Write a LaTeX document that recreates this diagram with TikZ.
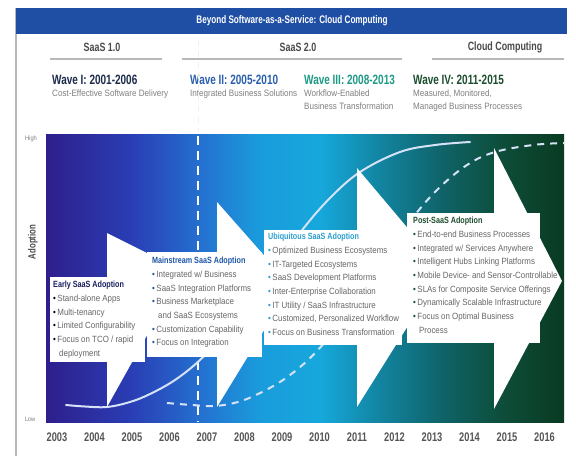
\documentclass[tikz,border=0pt]{standalone}
\usepackage{fontspec}
\setmainfont{Liberation Sans}
\newfontfamily\cnd{Liberation Sans}[FakeStretch=0.88]
\newfontfamily\hdr{Liberation Sans}[FakeStretch=0.74]
\newfontfamily\bxt{Liberation Sans}[FakeStretch=0.8]
\definecolor{barblue}{HTML}{1F4EA5}
\definecolor{framegray}{HTML}{B8B8B8}
\definecolor{hdrgray}{HTML}{4A4A4A}
\definecolor{subgray}{HTML}{808080}
\definecolor{itemgray}{HTML}{666666}
\definecolor{yeargray}{HTML}{555555}
\definecolor{wone}{HTML}{1C2B4A}
\definecolor{wtwo}{HTML}{2A5FAE}
\definecolor{wthree}{HTML}{1D9A86}
\definecolor{wfour}{HTML}{1C4D2E}
\definecolor{tone}{HTML}{1A2060}
\definecolor{ttwo}{HTML}{1D57A6}
\definecolor{tthree}{HTML}{2A9FD0}
\definecolor{tfour}{HTML}{1C4D2E}
\definecolor{ga}{HTML}{2E1F8C}
\definecolor{gb}{HTML}{2A3DB4}
\definecolor{gc}{HTML}{2470D0}
\definecolor{gd}{HTML}{1A9CDC}
\definecolor{ge}{HTML}{16A8DC}
\definecolor{gf}{HTML}{1284A0}
\definecolor{gg}{HTML}{0F646A}
\definecolor{gh}{HTML}{0D4E3A}
\definecolor{gi}{HTML}{0A3A22}
\definecolor{curvecol}{HTML}{D6E2F7}
\newcommand{\bul}[1]{\textcolor{#1}{\textbullet}\,}
\newcommand{\ind}{\hspace*{6pt}}
\begin{document}
\begin{tikzpicture}[x=1pt,y=-1pt,
  boxtext/.style={anchor=north west, inner sep=0pt, align=left, text=itemgray, font=\cnd\fontsize{9}{13.7}\selectfont},
  wave/.style={anchor=west, inner sep=0pt, font=\hdr\bfseries\fontsize{13.5}{15}\selectfont},
  wavesub/.style={anchor=north west, inner sep=0pt, align=left, text=subgray, font=\cnd\fontsize{9.2}{12.5}\selectfont},
  phase/.style={inner sep=0pt, text=hdrgray, font=\hdr\bfseries\fontsize{12}{14}\selectfont},
  yearlbl/.style={inner sep=0pt, text=yeargray, font=\hdr\bfseries\fontsize{12.5}{14}\selectfont},
  axislbl/.style={inner sep=0pt, text=subgray, font=\cnd\fontsize{6.5}{8}\selectfont},
  whitefill/.style={fill=white, draw=none},
  hline/.style={draw=framegray, line width=1.2pt},
]
\useasboundingbox (0,0) rectangle (576,460);
\fill[white] (0,0) rectangle (576,460);

% frame and title bar
\draw[framegray, line width=1.2pt] (16,8) -- (16,456);
\fill[barblue] (16,8) rectangle (567,34);
\node[inner sep=0pt, text=white, font=\hdr\bfseries\fontsize{11}{13}\selectfont] (title) at (292,21) {Beyond Software-as-a-Service: Cloud Computing};

% phase headers
\node[phase] (saasone) at (102,47) {SaaS 1.0};
\node[phase] (saastwo) at (298,47) {SaaS 2.0};
\node[phase] (cloud) at (505,47) {Cloud Computing};
\draw[hline] (50,59) -- (162,59);
\draw[hline] (182,59) -- (402,59);
\draw[hline] (432,59) -- (564,59);

% waves
\node[wave, text=wone] (wavei) at (52,80) {Wave I: 2001-2006};
\node[wavesub] (wavei-s) at (52,90) {Cost-Effective Software Delivery};
\node[wave, text=wtwo] (waveii) at (190,80) {Wave II: 2005-2010};
\node[wavesub] (waveii-s) at (190,90) {Integrated Business Solutions};
\node[wave, text=wthree] (waveiii) at (304,80) {Wave III: 2008-2013};
\node[wavesub] (waveiii-s) at (304,90) {Workflow-Enabled\\Business Transformation};
\node[wave, text=wfour] (waveiv) at (413,80) {Wave IV: 2011-2015};
\node[wavesub] (waveiv-s) at (413,90) {Measured, Monitored,\\Managed Business Processes};

% chart background gradient
\shade[left color=ga, right color=gb] (46,134) rectangle (130.4,422);
\shade[left color=gb, right color=gc] (130,134) rectangle (200.4,422);
\shade[left color=gc, right color=gd] (200,134) rectangle (260.4,422);
\shade[left color=gd, right color=ge] (260,134) rectangle (320.4,422);
\shade[left color=ge, right color=gf] (320,134) rectangle (380.4,422);
\shade[left color=gf, right color=gg] (380,134) rectangle (440.4,422);
\shade[left color=gg, right color=gh] (440,134) rectangle (500.4,422);
\shade[left color=gh, right color=gi] (500,134) rectangle (564,422);

% axis labels
\node[axislbl] (high) at (31,139) {High};
\node[axislbl] (low) at (30,419) {Low};
\node[inner sep=0pt, rotate=90, text=hdrgray, font=\hdr\bfseries\fontsize{10.5}{12}\selectfont] (adopt) at (33,242) {Adoption};

% vertical dashed divider
\draw[white!88!gray, line width=1pt, dash pattern=on 6pt off 5pt] (198,40) -- (198,132);
\draw[white, line width=2.4pt, dash pattern=on 9pt off 6pt] (198,136) -- (198,422);

% adoption curves
\draw[curvecol, line width=2pt, line cap=round] plot[smooth, tension=0.6] coordinates {
 (66,405) (85,406.5) (107,407) (130,402) (150,394) (175,380) (200,360) (225,333)
 (250,302) (275,268) (303,229) (330,198) (360,172) (400,152) (435,145) (470,142)};
\draw[curvecol, line width=2pt, dash pattern=on 7pt off 6pt] plot[smooth, tension=0.6] coordinates {
 (167,403) (192,405) (215,406) (238,402) (258,394) (283,380) (308,360) (333,333)
 (358,302) (383,268) (410,222) (437,190) (467,165) (495,152) (533,145) (564,143)};

% arrow heads
\fill[whitefill] (107,233) -- (183,271) -- (107,407) -- cycle;
\fill[whitefill] (217,202) -- (291,286) -- (217,407) -- cycle;
\fill[whitefill] (357,168) -- (443,270) -- (357,407) -- cycle;
\fill[whitefill] (494,148) -- (562,281) -- (494,409) -- cycle;

% arrow bodies (text boxes)
\fill[whitefill] (50,277) rectangle (145,362);
\fill[whitefill] (147,252) rectangle (262,357);
\fill[whitefill] (264,230) rectangle (402,345);
\fill[whitefill] (407,213) rectangle (540,343);

% box texts
\node[boxtext] (boxone) at (53,281) {{\bxt\bfseries\color{tone}Early SaaS Adoption}\\
\bul{black}Stand-alone Apps\\
\bul{black}Multi-tenancy\\
\bul{black}Limited Configurability\\
\bul{black}Focus on TCO / rapid\\
\ind deployment};

\node[boxtext] (boxtwo) at (152,257) {{\bxt\bfseries\color{ttwo}Mainstream SaaS Adoption}\\
\bul{ttwo}Integrated w/ Business\\
\bul{ttwo}SaaS Integration Platforms\\
\bul{ttwo}Business Marketplace\\
\ind and SaaS Ecosystems\\
\bul{ttwo}Customization Capability\\
\bul{ttwo}Focus on Integration};

\node[boxtext] (boxthree) at (268,233) {{\bxt\bfseries\color{tthree}Ubiquitous SaaS Adoption}\\
\bul{tthree}Optimized Business Ecosystems\\
\bul{tthree}IT-Targeted Ecosystems\\
\bul{tthree}SaaS Development Platforms\\
\bul{tthree}Inter-Enterprise Collaboration\\
\bul{tthree}IT Utility / SaaS Infrastructure\\
\bul{tthree}Customized, Personalized Workflow\\
\bul{tthree}Focus on Business Transformation};

\node[boxtext] (boxfour) at (413,217) {{\bxt\bfseries\color{tfour}Post-SaaS Adoption}\\
\bul{tfour}End-to-end Business Processes\\
\bul{tfour}Integrated w/ Services Anywhere\\
\bul{tfour}Intelligent Hubs Linking Platforms\\
\bul{tfour}Mobile Device- and Sensor-Controllable\\
\bul{tfour}SLAs for Composite Service Offerings\\
\bul{tfour}Dynamically Scalable Infrastructure\\
\bul{tfour}Focus on Optimal Business\\
\ind Process};

% years
\foreach \yr [count=\i from 0] in {2003,2004,2005,2006,2007,2008,2009,2010,2011,2012,2013,2014,2015,2016} {
  \node[yearlbl] (yr\yr) at (57+37.5*\i,437) {\yr};
}
\end{tikzpicture}
\end{document}
